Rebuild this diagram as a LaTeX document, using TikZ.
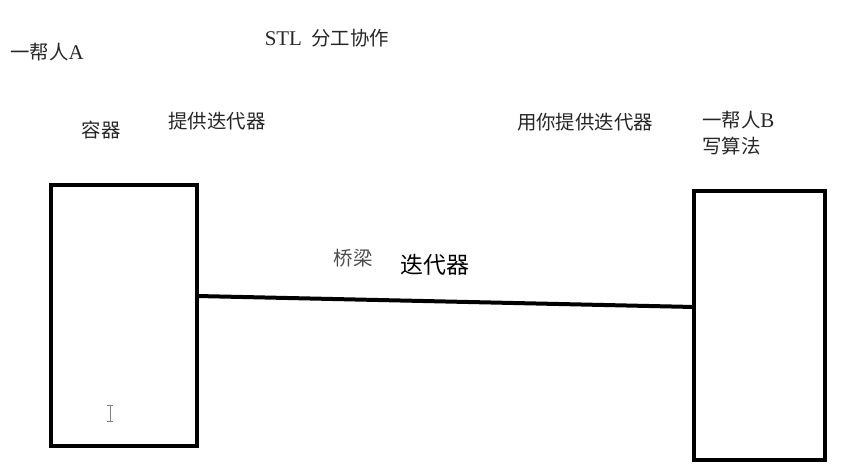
\documentclass[tikz,border=0pt]{standalone}
\usepackage{fontspec}
\setmainfont{Noto Sans CJK SC}
\newfontfamily\latn{Liberation Serif}
\usetikzlibrary{positioning}

\begin{document}
\begin{tikzpicture}[line join=miter,
  box/.style={draw,line width=4bp,rectangle,outer sep=0pt,inner sep=0pt},
  lbl/.style={inner sep=0pt,text=black!85,font=\fontsize{19.5}{24}\selectfont},
  big/.style={inner sep=0pt,text=black,font=\fontsize{23}{27}\selectfont},
  ]
%%
  \useasboundingbox (0bp,0bp) rectangle (862bp,476bp);
  \node (contA) at (124bp,160.5bp) [box,minimum width=146bp,minimum height=261bp] {};
  \node (algB) at (759.5bp,150.5bp) [box,minimum width=131bp,minimum height=269bp] {};
  \draw [line width=4bp] ([yshift=19.5bp]contA.east) -- ([yshift=18.5bp]algB.west);
%
  \node (grpA) at (47bp,424bp) [lbl] {一帮人{\latn\fontsize{21}{24}\selectfont A}};
  \node (title) at (327bp,438bp) [lbl] {{\latn\fontsize{21}{24}\selectfont STL\ } 分工协作};
  \node (cont) at (101bp,346bp) [lbl] {容器};
  \node (give) at (217bp,355bp) [lbl] {提供迭代器};
  \node (use) at (585bp,354bp) [lbl] {用你提供迭代器};
  \node (grpB) at (702bp,356bp) [lbl,anchor=west] {一帮人{\latn\fontsize{21}{24}\selectfont B}};
  \node (algo) at (702bp,330bp) [lbl,anchor=west] {写算法};
  \node (bridge) at (353bp,218bp) [lbl,text=black!70] {桥梁};
  \node (iter) at (435bp,211bp) [big] {迭代器};
%
  \draw [gray,line width=1bp] (110bp,54bp) -- (110bp,70bp)
    (107bp,54bp) -- (113bp,54bp) (107bp,70bp) -- (113bp,70bp);
%
\end{tikzpicture}
\end{document}
